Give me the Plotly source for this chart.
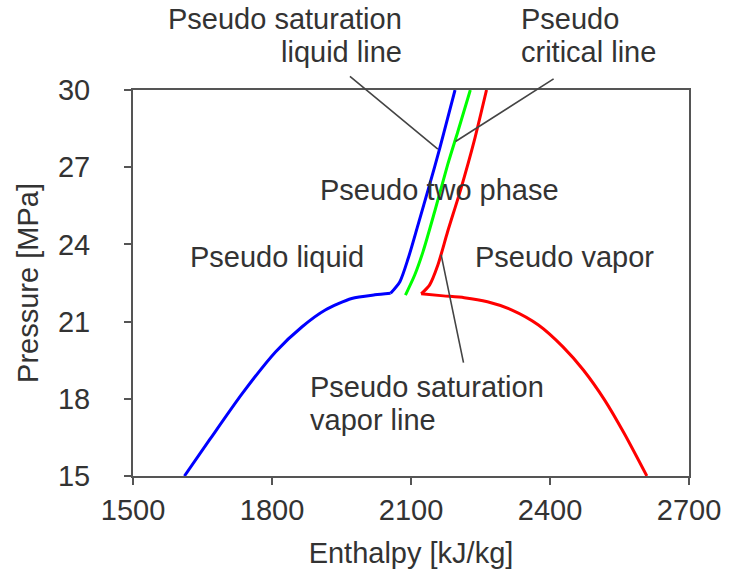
import plotly.graph_objects as go

# Pseudo saturation liquid line (enthalpy kJ/kg, pressure MPa)
h_liquid = [1611, 1665, 1736, 1808, 1865, 1915, 1972, 2022, 2056, 2076, 2094, 2115, 2140, 2162, 2179, 2195]
p_liquid = [15.0, 16.40, 18.21, 19.83, 20.80, 21.45, 21.90, 22.04, 22.10, 22.55, 23.46, 24.75, 26.31, 27.73, 28.90, 30.0]
liquid_knee = 8  # index where the dome meets the steep supercritical branch

# Pseudo critical line
h_critical = [2088, 2108, 2126, 2151, 2179, 2201, 2228]
p_critical = [22.03, 22.81, 23.72, 25.27, 27.09, 28.38, 30.0]

# Pseudo saturation vapor line
h_vapor = [2609, 2560, 2518, 2472, 2428, 2375, 2318, 2265, 2215, 2170, 2122, 2140, 2158, 2179, 2208, 2236, 2263]
p_vapor = [15.0, 16.66, 17.95, 19.12, 20.02, 20.87, 21.45, 21.77, 21.93, 22.0, 22.08, 22.42, 23.20, 24.49, 26.18, 27.99, 30.0]
vapor_knee = 10

x_ticks = [1500, 1800, 2100, 2400, 2700]
x_tick_text = ["1500", "1800", "2100", "2400", "2700"]
y_ticks = [15, 18, 21, 24, 27, 30]

FONT = "Liberation Sans, Arial, sans-serif"
TEXT_COLOR = "#333333"
AXIS_COLOR = "#555555"
LEADER_COLOR = "#444444"
SIZE = 29

fig = go.Figure()


def curve(h, p, color):
    fig.add_trace(go.Scatter(x=h, y=p, mode="lines",
                             line=dict(color=color, width=3, shape="spline", smoothing=0.7)))


# each line: smooth dome part + steep branch above the critical pressure
curve(h_liquid[:liquid_knee + 1], p_liquid[:liquid_knee + 1], "#0000FF")
curve(h_liquid[liquid_knee:], p_liquid[liquid_knee:], "#0000FF")
curve(h_critical, p_critical, "#00FF00")
curve(h_vapor[:vapor_knee + 1], p_vapor[:vapor_knee + 1], "#FF0000")
curve(h_vapor[vapor_knee:], p_vapor[vapor_knee:], "#FF0000")

annotations = []


def label(text, x, y, xanchor="center", yref="y"):
    annotations.append(dict(text=text, x=x, y=y, xref="x", yref=yref,
                            xanchor=xanchor, yanchor="middle", showarrow=False,
                            font=dict(family=FONT, size=SIZE, color=TEXT_COLOR)))


def leader(tip_h, tip_p, tail_h, tail_p):
    annotations.append(dict(text="", x=tip_h, y=tip_p, ax=tail_h, ay=tail_p,
                            xref="x", yref="y", axref="x", ayref="y",
                            showarrow=True, arrowhead=0, arrowwidth=1.6,
                            arrowcolor=LEADER_COLOR, standoff=0, startstandoff=0))


# region labels
label("Pseudo two phase", 2162, 26.11)
label("Pseudo liquid", 1811, 23.52)
label("Pseudo vapor", 2431, 23.52)
label("Pseudo saturation", 1878, 18.47, xanchor="left")
label("vapor line", 1878, 17.18, xanchor="left")

# labels above the plot (paper y)
label("Pseudo saturation", 2085, 1.183, xanchor="right", yref="paper")
label("liquid line", 2085, 1.098, xanchor="right", yref="paper")
label("Pseudo", 2333, 1.183, xanchor="left", yref="paper")
label("critical line", 2333, 1.098, xanchor="left", yref="paper")

# leader lines from labels to curves
leader(2158, 27.7, 1965, 30.58)
leader(2196, 28.0, 2411, 30.47)
leader(2165, 23.6, 2214, 19.35)

axis_common = dict(showline=True, mirror=True, linecolor=AXIS_COLOR, linewidth=2,
                   ticks="outside", ticklen=7, tickwidth=2, tickcolor=AXIS_COLOR,
                   showgrid=False, zeroline=False,
                   tickfont=dict(family=FONT, size=SIZE, color=TEXT_COLOR))

fig.update_layout(
    width=733, height=576,
    margin=dict(l=133, r=40, t=90, b=100),
    paper_bgcolor="white", plot_bgcolor="white",
    showlegend=False,
    annotations=annotations,
    xaxis=dict(range=[1500, 2700], tickvals=x_ticks, ticktext=x_tick_text,
               title=dict(text="Enthalpy [kJ/kg]", standoff=18,
                          font=dict(family=FONT, size=SIZE, color=TEXT_COLOR)),
               **axis_common),
    yaxis=dict(range=[15, 30], tickvals=y_ticks, ticklabelstandoff=28,
               title=dict(text="Pressure [MPa]", standoff=11,
                          font=dict(family=FONT, size=SIZE, color=TEXT_COLOR)),
               **axis_common),
)

fig.write_html("out.html")
